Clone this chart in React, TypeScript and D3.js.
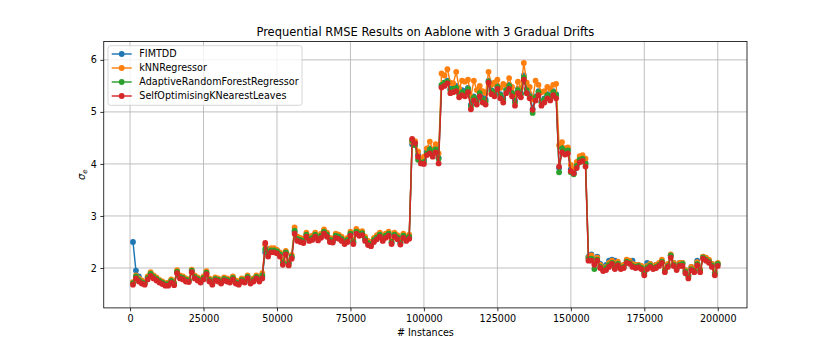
import React, { useEffect, useRef } from "react";
import * as d3 from "d3";

// prequential evaluation every 1000 instances
const instances = d3.range(1000, 200001, 1000);

const fimtdd = [
  2.50, 1.95, 1.84, 1.74, 1.71, 1.81, 1.89, 1.83, 1.79, 1.75,
  1.72, 1.69, 1.69, 1.75, 1.70, 1.92, 1.83, 1.81, 1.77, 1.76,
  1.94, 1.83, 1.79, 1.75, 1.81, 1.90, 1.77, 1.71, 1.79, 1.77,
  1.73, 1.79, 1.77, 1.75, 1.81, 1.73, 1.71, 1.77, 1.75, 1.83,
  1.73, 1.77, 1.83, 1.77, 1.84, 2.30, 2.36, 2.32, 2.36, 2.34,
  2.28, 2.12, 2.30, 2.10, 2.20, 2.70, 2.55, 2.53, 2.52, 2.63,
  2.55, 2.57, 2.63, 2.56, 2.61, 2.69, 2.63, 2.53, 2.52, 2.61,
  2.59, 2.55, 2.49, 2.53, 2.65, 2.49, 2.69, 2.65, 2.66, 2.55,
  2.47, 2.45, 2.53, 2.58, 2.63, 2.55, 2.61, 2.65, 2.49, 2.63,
  2.58, 2.48, 2.61, 2.55, 2.59, 4.38, 4.42, 4.18, 4.04, 4.08,
  4.24, 4.30, 4.22, 4.30, 4.12, 5.50, 5.56, 5.60, 5.44, 5.46,
  5.50, 5.38, 5.42, 5.40, 5.46, 5.14, 5.30, 5.24, 5.40, 5.28,
  5.24, 5.60, 5.42, 5.38, 5.50, 5.34, 5.26, 5.44, 5.52, 5.38,
  5.22, 5.44, 5.36, 5.70, 5.44, 5.34, 5.06, 5.30, 5.40, 5.20,
  5.26, 5.34, 5.30, 5.40, 5.34, 3.92, 4.32, 4.26, 4.28, 3.90,
  3.84, 3.98, 4.10, 4.12, 4.02, 2.22, 2.26, 2.16, 2.22, 2.08,
  2.02, 2.06, 2.14, 2.16, 2.14, 2.10, 2.04, 2.06, 2.14, 2.12,
  2.14, 2.06, 2.06, 2.02, 1.92, 2.10, 2.08, 2.04, 2.06, 2.08,
  2.12, 1.98, 2.06, 2.24, 2.10, 2.02, 2.10, 2.10, 1.96, 1.86,
  2.02, 1.98, 2.14, 1.98, 2.22, 2.18, 2.14, 2.08, 1.92, 2.08,
];

const knn = [
  1.73, 1.86, 1.80, 1.76, 1.73, 1.84, 1.92, 1.86, 1.82, 1.77,
  1.74, 1.71, 1.72, 1.78, 1.72, 1.96, 1.86, 1.84, 1.80, 1.78,
  1.97, 1.86, 1.82, 1.78, 1.84, 1.94, 1.80, 1.74, 1.82, 1.80,
  1.76, 1.82, 1.80, 1.78, 1.84, 1.76, 1.74, 1.80, 1.78, 1.86,
  1.76, 1.80, 1.86, 1.80, 1.90, 2.44, 2.30, 2.38, 2.38, 2.35,
  2.30, 2.14, 2.33, 2.12, 2.25, 2.78, 2.60, 2.58, 2.56, 2.68,
  2.60, 2.62, 2.68, 2.61, 2.66, 2.74, 2.68, 2.58, 2.57, 2.66,
  2.64, 2.60, 2.54, 2.58, 2.70, 2.54, 2.75, 2.70, 2.71, 2.60,
  2.52, 2.50, 2.58, 2.63, 2.68, 2.60, 2.66, 2.70, 2.54, 2.68,
  2.63, 2.53, 2.66, 2.60, 2.64, 4.42, 4.44, 4.24, 4.10, 4.14,
  4.30, 4.43, 4.28, 4.38, 4.20, 5.74, 5.70, 5.82, 5.56, 5.55,
  5.77, 5.45, 5.60, 5.58, 5.62, 5.30, 5.60, 5.42, 5.50, 5.40,
  5.36, 5.77, 5.52, 5.56, 5.62, 5.46, 5.54, 5.50, 5.65, 5.48,
  5.32, 5.58, 5.46, 5.94, 5.56, 5.48, 5.24, 5.60, 5.52, 5.38,
  5.40, 5.48, 5.44, 5.52, 5.54, 4.36, 4.42, 4.30, 4.32, 3.98,
  3.90, 4.04, 4.15, 4.17, 4.10, 2.20, 2.24, 2.12, 2.20, 2.06,
  2.00, 2.02, 2.10, 2.14, 2.04, 2.12, 2.04, 2.06, 2.16, 2.14,
  2.08, 2.06, 2.06, 2.04, 1.92, 2.04, 2.08, 2.04, 2.06, 2.10,
  2.16, 1.98, 2.08, 2.26, 2.10, 2.02, 2.10, 2.10, 1.96, 1.86,
  2.02, 1.98, 2.11, 1.98, 2.22, 2.20, 2.16, 2.08, 1.92, 2.10,
];

const arf = [
  1.71, 1.84, 1.77, 1.73, 1.71, 1.81, 1.89, 1.83, 1.79, 1.75,
  1.72, 1.69, 1.69, 1.75, 1.70, 1.93, 1.83, 1.81, 1.77, 1.76,
  1.95, 1.83, 1.79, 1.75, 1.81, 1.91, 1.77, 1.71, 1.79, 1.77,
  1.73, 1.79, 1.77, 1.75, 1.81, 1.73, 1.71, 1.77, 1.75, 1.83,
  1.73, 1.77, 1.83, 1.77, 1.86, 2.36, 2.30, 2.34, 2.34, 2.32,
  2.26, 2.10, 2.30, 2.09, 2.22, 2.72, 2.56, 2.54, 2.52, 2.64,
  2.56, 2.58, 2.64, 2.57, 2.62, 2.70, 2.64, 2.54, 2.53, 2.62,
  2.60, 2.56, 2.50, 2.54, 2.66, 2.50, 2.70, 2.66, 2.67, 2.56,
  2.48, 2.46, 2.54, 2.59, 2.64, 2.56, 2.62, 2.66, 2.50, 2.64,
  2.59, 2.49, 2.62, 2.56, 2.60, 4.45, 4.36, 4.08, 4.02, 4.04,
  4.20, 4.28, 4.20, 4.28, 4.10, 5.52, 5.56, 5.58, 5.42, 5.44,
  5.46, 5.34, 5.38, 5.36, 5.44, 5.10, 5.28, 5.20, 5.36, 5.24,
  5.20, 5.58, 5.40, 5.36, 5.48, 5.32, 5.22, 5.42, 5.50, 5.36,
  5.18, 5.42, 5.34, 5.66, 5.42, 5.30, 4.98, 5.28, 5.38, 5.18,
  5.24, 5.32, 5.28, 5.38, 5.32, 3.84, 4.30, 4.24, 4.26, 3.84,
  3.80, 3.96, 4.08, 4.10, 4.00, 2.18, 2.18, 1.98, 2.16, 2.02,
  1.96, 2.00, 2.06, 2.10, 2.00, 2.08, 2.00, 2.02, 2.12, 2.10,
  2.04, 2.02, 2.04, 2.00, 1.90, 2.01, 2.05, 2.00, 2.02, 2.06,
  2.12, 1.95, 2.04, 2.24, 2.06, 1.98, 2.06, 2.08, 1.93, 1.84,
  1.98, 1.94, 2.08, 1.95, 2.20, 2.16, 2.12, 2.05, 1.89, 2.08,
];

const soknl = [
  1.68, 1.80, 1.74, 1.70, 1.68, 1.78, 1.85, 1.80, 1.76, 1.72,
  1.69, 1.66, 1.66, 1.72, 1.67, 1.90, 1.80, 1.78, 1.74, 1.73,
  1.92, 1.80, 1.76, 1.72, 1.78, 1.88, 1.74, 1.68, 1.76, 1.74,
  1.70, 1.76, 1.74, 1.72, 1.78, 1.70, 1.68, 1.74, 1.72, 1.80,
  1.70, 1.74, 1.80, 1.74, 1.80, 2.48, 2.22, 2.30, 2.30, 2.28,
  2.22, 2.06, 2.26, 2.05, 2.18, 2.66, 2.52, 2.50, 2.48, 2.60,
  2.52, 2.54, 2.60, 2.53, 2.58, 2.66, 2.60, 2.50, 2.49, 2.58,
  2.56, 2.52, 2.46, 2.50, 2.62, 2.46, 2.66, 2.62, 2.63, 2.52,
  2.44, 2.42, 2.50, 2.55, 2.60, 2.52, 2.58, 2.62, 2.46, 2.60,
  2.55, 2.45, 2.58, 2.52, 2.56, 4.48, 4.40, 4.14, 4.01, 4.00,
  4.17, 4.20, 4.14, 4.22, 4.01, 5.47, 5.50, 5.55, 5.36, 5.38,
  5.40, 5.28, 5.32, 5.30, 5.38, 5.05, 5.22, 5.14, 5.30, 5.18,
  5.14, 5.56, 5.34, 5.30, 5.44, 5.26, 5.18, 5.36, 5.44, 5.30,
  5.12, 5.36, 5.28, 5.62, 5.36, 5.26, 5.04, 5.22, 5.32, 5.12,
  5.18, 5.26, 5.22, 5.32, 5.26, 3.95, 4.22, 4.18, 4.20, 3.86,
  3.82, 3.92, 4.03, 4.06, 3.95, 2.14, 2.14, 2.06, 2.14, 2.00,
  1.94, 1.96, 2.02, 2.08, 1.98, 2.05, 1.98, 2.00, 2.10, 2.08,
  2.02, 2.00, 2.01, 1.98, 1.86, 1.98, 2.02, 1.98, 2.00, 2.04,
  2.10, 1.92, 2.02, 2.20, 2.04, 1.96, 2.04, 2.04, 1.90, 1.80,
  1.96, 1.92, 2.05, 1.92, 2.18, 2.14, 2.10, 2.02, 1.86, 2.04,
];

const seriesNames = [
  "FIMTDD",
  "kNNRegressor",
  "AdaptiveRandomForestRegressor",
  "SelfOptimisingKNearestLeaves",
];
const seriesValues = [fimtdd, knn, arf, soknl];
const colors = ["#1f77b4", "#ff7f0e", "#2ca02c", "#d62728"];

const xTicks = [0, 25000, 50000, 75000, 100000, 125000, 150000, 175000, 200000];
const yTicks = [2, 3, 4, 5, 6];

const FONT = "'DejaVu Sans', sans-serif";

const App = () => {
  const svgRef = useRef(null);

  useEffect(() => {
    const svg = d3.select(svgRef.current);
    svg.selectAll("*").remove();

    const W = 830;
    const H = 346;
    const margin = { top: 41.5, right: 83, bottom: 38.1, left: 103.75 };
    const width = W - margin.left - margin.right;
    const height = H - margin.top - margin.bottom;

    svg.attr("width", W).attr("height", H);
    svg.append("rect").attr("width", W).attr("height", H).attr("fill", "#fff");

    const g = svg
      .append("g")
      .attr("transform", `translate(${margin.left},${margin.top})`);

    const xScale = d3.scaleLinear().domain([-8950, 209950]).range([0, width]);
    const yScale = d3.scaleLinear().domain([1.233, 6.353]).range([height, 0]);

    // grid
    g.append("g")
      .selectAll("line")
      .data(xTicks)
      .enter()
      .append("line")
      .attr("x1", (d) => xScale(d))
      .attr("x2", (d) => xScale(d))
      .attr("y1", 0)
      .attr("y2", height)
      .attr("stroke", "#b0b0b0")
      .attr("stroke-width", 0.8);

    g.append("g")
      .selectAll("line")
      .data(yTicks)
      .enter()
      .append("line")
      .attr("x1", 0)
      .attr("x2", width)
      .attr("y1", (d) => yScale(d))
      .attr("y2", (d) => yScale(d))
      .attr("stroke", "#b0b0b0")
      .attr("stroke-width", 0.8);

    // series
    const line = d3
      .line()
      .x((d) => xScale(d[0]))
      .y((d) => yScale(d[1]));

    seriesValues.forEach((vals, k) => {
      const pts = instances.map((x, i) => [x, vals[i]]);
      const sg = g.append("g");
      sg.append("path")
        .datum(pts)
        .attr("d", line)
        .attr("fill", "none")
        .attr("stroke", colors[k])
        .attr("stroke-width", 1.45)
        .attr("stroke-linejoin", "round");
      sg.selectAll("circle")
        .data(pts)
        .enter()
        .append("circle")
        .attr("cx", (d) => xScale(d[0]))
        .attr("cy", (d) => yScale(d[1]))
        .attr("r", 2.9)
        .attr("fill", colors[k]);
    });

    // axes
    const xAxis = g
      .append("g")
      .attr("transform", `translate(0,${height})`)
      .call(d3.axisBottom(xScale).tickValues(xTicks).tickSize(3.4).tickPadding(3.4).tickFormat(d3.format("d")));
    const yAxis = g
      .append("g")
      .call(d3.axisLeft(yScale).tickValues(yTicks).tickSize(3.4).tickPadding(3.4).tickFormat(d3.format("d")));

    [xAxis, yAxis].forEach((ax) => {
      ax.select(".domain").remove();
      ax.selectAll("line").attr("stroke", "#000").attr("stroke-width", 0.8);
      ax.selectAll("text")
        .style("font-family", FONT)
        .style("font-size", "9.6px")
        .attr("fill", "#000");
    });

    // frame
    g.append("rect")
      .attr("width", width)
      .attr("height", height)
      .attr("fill", "none")
      .attr("stroke", "#000")
      .attr("stroke-width", 0.8);

    // labels
    svg.append("text")
      .attr("x", margin.left + width / 2)
      .attr("y", 35.7)
      .attr("text-anchor", "middle")
      .style("font-family", FONT)
      .style("font-size", "11.5px")
      .text("Prequential RMSE Results on Aablone with 3 Gradual Drifts");

    svg.append("text")
      .attr("x", margin.left + width / 2)
      .attr("y", 336)
      .attr("text-anchor", "middle")
      .style("font-family", FONT)
      .style("font-size", "9.6px")
      .text("# Instances");

    // sigma_e, rotated
    const yl = svg
      .append("text")
      .attr("transform", `translate(85,${margin.top + height / 2}) rotate(-90)`)
      .attr("text-anchor", "middle")
      .style("font-family", FONT)
      .style("font-size", "10px");
    yl.append("tspan").style("font-style", "italic").text("σ");
    yl.append("tspan")
      .style("font-style", "italic")
      .style("font-size", "7px")
      .attr("dy", 2)
      .text("e");

    // legend
    const lg = svg.append("g").attr("transform", "translate(108,45.7)");
    lg.append("rect")
      .attr("width", 194)
      .attr("height", 59.6)
      .attr("rx", 2.5)
      .attr("fill", "#fff")
      .attr("fill-opacity", 0.8)
      .attr("stroke", "#cccccc")
      .attr("stroke-width", 0.8);

    seriesNames.forEach((name, k) => {
      const y = 8.3 + k * 14;
      lg.append("line")
        .attr("x1", 3.7)
        .attr("x2", 23.7)
        .attr("y1", y)
        .attr("y2", y)
        .attr("stroke", colors[k])
        .attr("stroke-width", 1.45);
      lg.append("circle").attr("cx", 13.7).attr("cy", y).attr("r", 2.9).attr("fill", colors[k]);
      lg.append("text")
        .attr("x", 31.3)
        .attr("y", y + 3.5)
        .style("font-family", FONT)
        .style("font-size", "9.6px")
        .text(name);
    });
  }, []);

  return (
    <div style={{ position: "absolute", left: 0, top: 0 }}>
      <svg ref={svgRef} style={{ display: "block" }}></svg>
    </div>
  );
};

export default App;
